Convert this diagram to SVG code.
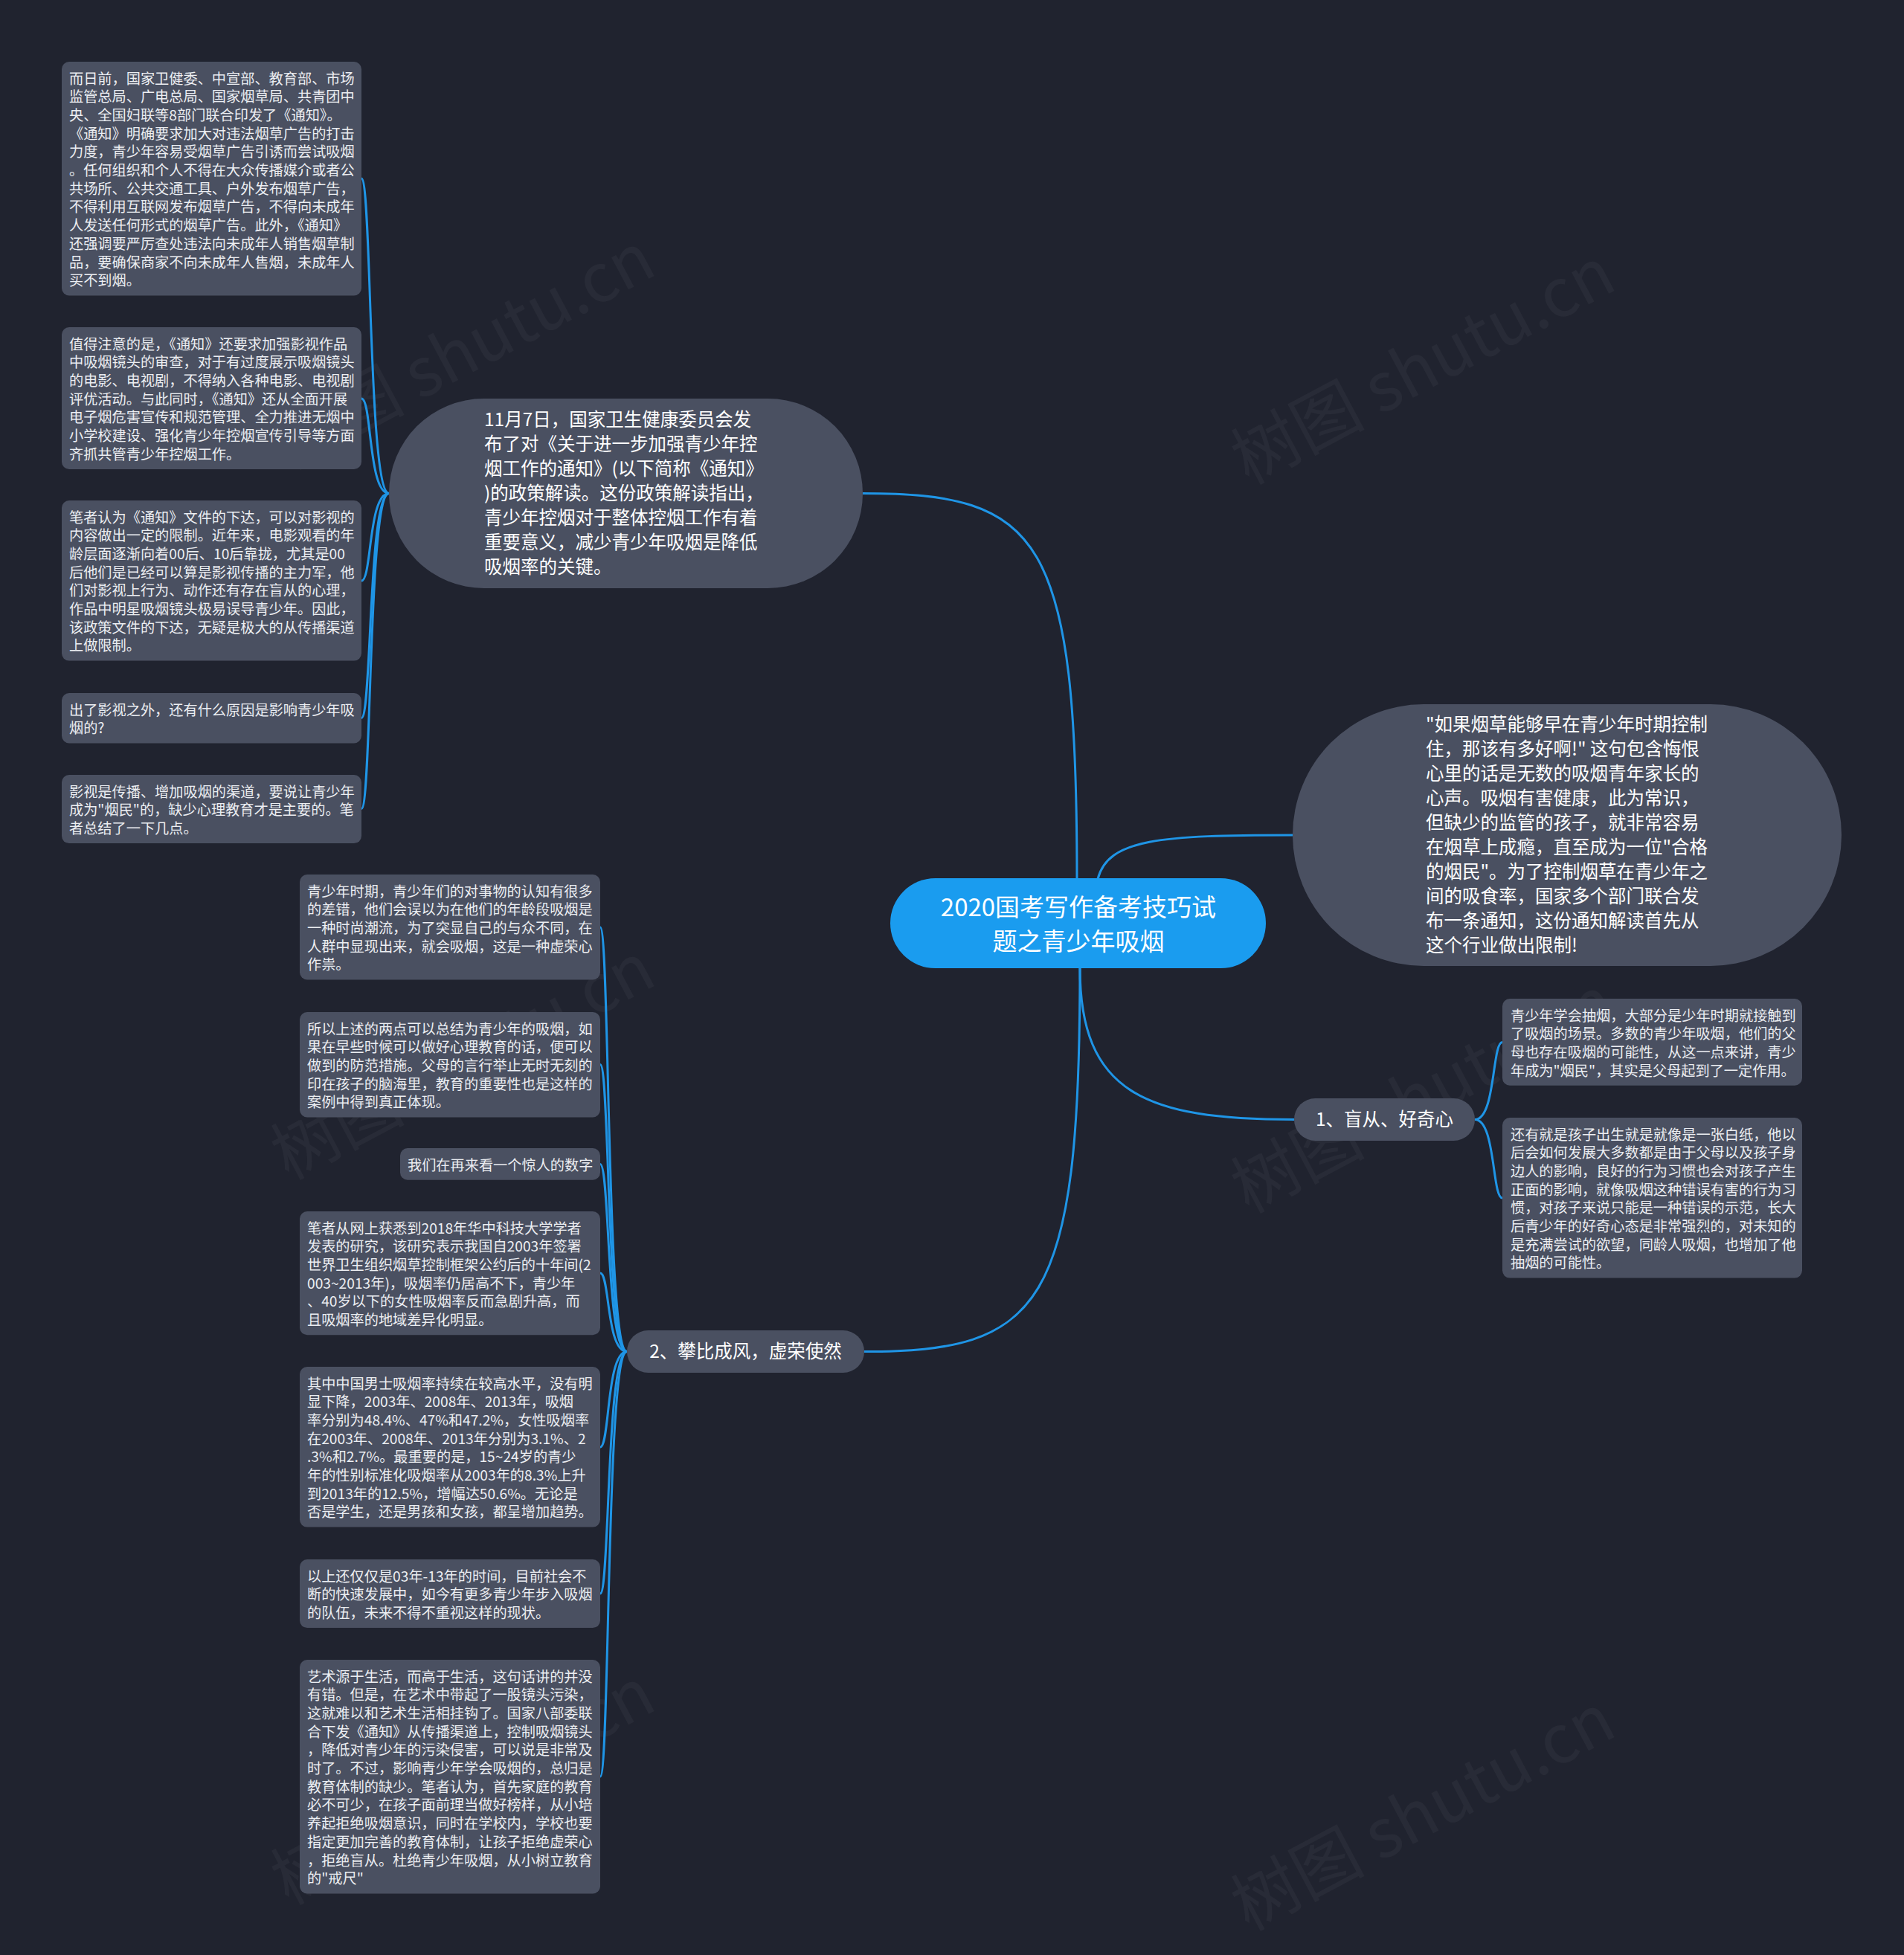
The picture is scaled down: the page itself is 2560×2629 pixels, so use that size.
<svg xmlns="http://www.w3.org/2000/svg" width="2560" height="2629" viewBox="0 0 2560 2629">
<style>
.bg{fill:#20232f}
.sb{fill:#4a5061}
.st{fill:#eceef2;font-family:"Noto Sans CJK SC","Microsoft YaHei",sans-serif;font-size:19.2px}
.mn{fill:#4a5061}
.mt{fill:#ffffff;font-family:"Noto Sans CJK SC","Microsoft YaHei",sans-serif;font-size:24.5px}
.ct{fill:#ffffff;font-family:"Noto Sans CJK SC","Microsoft YaHei",sans-serif;font-size:33px;text-anchor:middle}
.ln{fill:none;stroke:#1f95e6;stroke-width:3}
.wm{fill:#ffffff;opacity:0.035;font-family:"Noto Sans CJK SC","Liberation Sans",sans-serif;font-size:90px;text-anchor:middle}
</style>
<rect class="bg" x="0" y="0" width="2560" height="2629"/>
<g id="watermarks">
<text class="wm" transform="translate(637,500) rotate(-28)">树图 shutu.cn</text>
<text class="wm" transform="translate(1928,520) rotate(-28)">树图 shutu.cn</text>
<text class="wm" transform="translate(637,1455) rotate(-28)">树图 shutu.cn</text>
<text class="wm" transform="translate(1928,1500) rotate(-28)">树图 shutu.cn</text>
<text class="wm" transform="translate(637,2430) rotate(-28)">树图 shutu.cn</text>
<text class="wm" transform="translate(1928,2465) rotate(-28)">树图 shutu.cn</text>
</g>
<g id="connectors">
<path class="ln" d="M1448,1182 C1448,720 1400,663.5 1160,663.5"/>
<path class="ln" d="M1476,1182 C1490,1128 1560,1123 1738,1123"/>
<path class="ln" d="M1452,1301 C1452,1470 1540,1505.5 1740,1505.5"/>
<path class="ln" d="M1452,1301 C1452,1760 1400,1817.5 1162,1817.5"/>
<path class="ln" d="M523,663.5 C495,663.5 500,240 486,240"/>
<path class="ln" d="M523,663.5 C495,663.5 500,536 486,536"/>
<path class="ln" d="M523,663.5 C495,663.5 500,781 486,781"/>
<path class="ln" d="M523,663.5 C495,663.5 500,965.5 486,965.5"/>
<path class="ln" d="M523,663.5 C495,663.5 500,1087.5 486,1087.5"/>
<path class="ln" d="M1983,1505.5 C2011,1505.5 2006,1401.5 2020,1401.5"/>
<path class="ln" d="M1983,1505.5 C2011,1505.5 2006,1611 2020,1611"/>
<path class="ln" d="M843,1817.5 C815,1817.5 820,1247 807,1247"/>
<path class="ln" d="M843,1817.5 C815,1817.5 820,1431.5 807,1431.5"/>
<path class="ln" d="M843,1817.5 C815,1817.5 820,1565.5 807,1565.5"/>
<path class="ln" d="M843,1817.5 C815,1817.5 820,1712 807,1712"/>
<path class="ln" d="M843,1817.5 C815,1817.5 820,1946 807,1946"/>
<path class="ln" d="M843,1817.5 C815,1817.5 820,2143 807,2143"/>
<path class="ln" d="M843,1817.5 C815,1817.5 820,2389 807,2389"/>
</g>
<g id="center">
<rect x="1197" y="1181" width="505" height="121" rx="60.5" fill="#1a9cef"/>
<text class="ct" x="1450" y="1232">2020国考写作备考技巧试</text>
<text class="ct" x="1450" y="1278">题之青少年吸烟</text>
</g>
<g id="nodeA">
<rect class="mn" x="523" y="536" width="637" height="255" rx="127.5"/>
<text class="mt" x="651" y="573"><tspan x="651" dy="0">11月7日，国家卫生健康委员会发</tspan><tspan x="651" dy="33">布了对《关于进一步加强青少年控</tspan><tspan x="651" dy="33">烟工作的通知》(以下简称《通知》</tspan><tspan x="651" dy="33">)的政策解读。这份政策解读指出，</tspan><tspan x="651" dy="33">青少年控烟对于整体控烟工作有着</tspan><tspan x="651" dy="33">重要意义，减少青少年吸烟是降低</tspan><tspan x="651" dy="33">吸烟率的关键。</tspan></text>
</g>
<g id="nodeB">
<rect class="mn" x="1738" y="947" width="738" height="352" rx="176"/>
<text class="mt" x="1917" y="983"><tspan x="1917" dy="0">"如果烟草能够早在青少年时期控制</tspan><tspan x="1917" dy="33">住，那该有多好啊!" 这句包含悔恨</tspan><tspan x="1917" dy="33">心里的话是无数的吸烟青年家长的</tspan><tspan x="1917" dy="33">心声。吸烟有害健康，此为常识，</tspan><tspan x="1917" dy="33">但缺少的监管的孩子，就非常容易</tspan><tspan x="1917" dy="33">在烟草上成瘾，直至成为一位"合格</tspan><tspan x="1917" dy="33">的烟民"。为了控制烟草在青少年之</tspan><tspan x="1917" dy="33">间的吸食率，国家多个部门联合发</tspan><tspan x="1917" dy="33">布一条通知，这份通知解读首先从</tspan><tspan x="1917" dy="33">这个行业做出限制!</tspan></text>
</g>
<g id="node1">
<rect class="mn" x="1740" y="1477" width="243" height="57" rx="28.5"/>
<text class="mt" x="1861.5" y="1514" text-anchor="middle">1、盲从、好奇心</text>
</g>
<g id="node2">
<rect class="mn" x="843" y="1789" width="319" height="57" rx="28.5"/>
<text class="mt" x="1002.5" y="1826" text-anchor="middle">2、攀比成风，虚荣使然</text>
</g>
<g id="L1">
<rect class="sb" x="83" y="83" width="403" height="314.4" rx="10"/>
<text class="st" x="93" y="112.5"><tspan x="93" dy="0">而日前，国家卫健委、中宣部、教育部、市场</tspan><tspan x="93" dy="24.7">监管总局、广电总局、国家烟草局、共青团中</tspan><tspan x="93" dy="24.7">央、全国妇联等8部门联合印发了《通知》。</tspan><tspan x="93" dy="24.7">《通知》明确要求加大对违法烟草广告的打击</tspan><tspan x="93" dy="24.7">力度，青少年容易受烟草广告引诱而尝试吸烟</tspan><tspan x="93" dy="24.7">。任何组织和个人不得在大众传播媒介或者公</tspan><tspan x="93" dy="24.7">共场所、公共交通工具、户外发布烟草广告，</tspan><tspan x="93" dy="24.7">不得利用互联网发布烟草广告，不得向未成年</tspan><tspan x="93" dy="24.7">人发送任何形式的烟草广告。此外，《通知》</tspan><tspan x="93" dy="24.7">还强调要严厉查处违法向未成年人销售烟草制</tspan><tspan x="93" dy="24.7">品，要确保商家不向未成年人售烟，未成年人</tspan><tspan x="93" dy="24.7">买不到烟。</tspan></text>
</g>
<g id="L2">
<rect class="sb" x="83" y="440" width="403" height="190.9" rx="10"/>
<text class="st" x="93" y="469.5"><tspan x="93" dy="0">值得注意的是，《通知》还要求加强影视作品</tspan><tspan x="93" dy="24.7">中吸烟镜头的审查，对于有过度展示吸烟镜头</tspan><tspan x="93" dy="24.7">的电影、电视剧，不得纳入各种电影、电视剧</tspan><tspan x="93" dy="24.7">评优活动。与此同时，《通知》还从全面开展</tspan><tspan x="93" dy="24.7">电子烟危害宣传和规范管理、全力推进无烟中</tspan><tspan x="93" dy="24.7">小学校建设、强化青少年控烟宣传引导等方面</tspan><tspan x="93" dy="24.7">齐抓共管青少年控烟工作。</tspan></text>
</g>
<g id="L3">
<rect class="sb" x="83" y="673" width="403" height="215.6" rx="10"/>
<text class="st" x="93" y="702.5"><tspan x="93" dy="0">笔者认为《通知》文件的下达，可以对影视的</tspan><tspan x="93" dy="24.7">内容做出一定的限制。近年来，电影观看的年</tspan><tspan x="93" dy="24.7">龄层面逐渐向着00后、10后靠拢，尤其是00</tspan><tspan x="93" dy="24.7">后他们是已经可以算是影视传播的主力军，他</tspan><tspan x="93" dy="24.7">们对影视上行为、动作还有存在盲从的心理，</tspan><tspan x="93" dy="24.7">作品中明星吸烟镜头极易误导青少年。因此，</tspan><tspan x="93" dy="24.7">该政策文件的下达，无疑是极大的从传播渠道</tspan><tspan x="93" dy="24.7">上做限制。</tspan></text>
</g>
<g id="L4">
<rect class="sb" x="83" y="932" width="403" height="67.4" rx="10"/>
<text class="st" x="93" y="961.5"><tspan x="93" dy="0">出了影视之外，还有什么原因是影响青少年吸</tspan><tspan x="93" dy="24.7">烟的?</tspan></text>
</g>
<g id="L5">
<rect class="sb" x="83" y="1042" width="403" height="92.1" rx="10"/>
<text class="st" x="93" y="1071.5"><tspan x="93" dy="0">影视是传播、增加吸烟的渠道，要说让青少年</tspan><tspan x="93" dy="24.7">成为"烟民"的，缺少心理教育才是主要的。笔</tspan><tspan x="93" dy="24.7">者总结了一下几点。</tspan></text>
</g>
<g id="R1">
<rect class="sb" x="2020" y="1343" width="403" height="116.8" rx="10"/>
<text class="st" x="2031" y="1372.5"><tspan x="2031" dy="0">青少年学会抽烟，大部分是少年时期就接触到</tspan><tspan x="2031" dy="24.7">了吸烟的场景。多数的青少年吸烟，他们的父</tspan><tspan x="2031" dy="24.7">母也存在吸烟的可能性，从这一点来讲，青少</tspan><tspan x="2031" dy="24.7">年成为"烟民"，其实是父母起到了一定作用。</tspan></text>
</g>
<g id="R2">
<rect class="sb" x="2020" y="1503" width="403" height="215.6" rx="10"/>
<text class="st" x="2031" y="1532.5"><tspan x="2031" dy="0">还有就是孩子出生就是就像是一张白纸，他以</tspan><tspan x="2031" dy="24.7">后会如何发展大多数都是由于父母以及孩子身</tspan><tspan x="2031" dy="24.7">边人的影响，良好的行为习惯也会对孩子产生</tspan><tspan x="2031" dy="24.7">正面的影响，就像吸烟这种错误有害的行为习</tspan><tspan x="2031" dy="24.7">惯，对孩子来说只能是一种错误的示范，长大</tspan><tspan x="2031" dy="24.7">后青少年的好奇心态是非常强烈的，对未知的</tspan><tspan x="2031" dy="24.7">是充满尝试的欲望，同龄人吸烟，也增加了他</tspan><tspan x="2031" dy="24.7">抽烟的可能性。</tspan></text>
</g>
<g id="M1">
<rect class="sb" x="403" y="1176" width="404" height="141.5" rx="10"/>
<text class="st" x="413" y="1205.5"><tspan x="413" dy="0">青少年时期，青少年们的对事物的认知有很多</tspan><tspan x="413" dy="24.7">的差错，他们会误以为在他们的年龄段吸烟是</tspan><tspan x="413" dy="24.7">一种时尚潮流，为了突显自己的与众不同，在</tspan><tspan x="413" dy="24.7">人群中显现出来，就会吸烟，这是一种虚荣心</tspan><tspan x="413" dy="24.7">作祟。</tspan></text>
</g>
<g id="M2">
<rect class="sb" x="403" y="1361" width="404" height="141.5" rx="10"/>
<text class="st" x="413" y="1390.5"><tspan x="413" dy="0">所以上述的两点可以总结为青少年的吸烟，如</tspan><tspan x="413" dy="24.7">果在早些时候可以做好心理教育的话，便可以</tspan><tspan x="413" dy="24.7">做到的防范措施。父母的言行举止无时无刻的</tspan><tspan x="413" dy="24.7">印在孩子的脑海里，教育的重要性也是这样的</tspan><tspan x="413" dy="24.7">案例中得到真正体现。</tspan></text>
</g>
<g id="M3">
<rect class="sb" x="538" y="1544" width="269" height="42.7" rx="10"/>
<text class="st" x="548" y="1573.5">我们在再来看一个惊人的数字</text>
</g>
<g id="M4">
<rect class="sb" x="403" y="1629" width="404" height="166.2" rx="10"/>
<text class="st" x="413" y="1658.5"><tspan x="413" dy="0">笔者从网上获悉到2018年华中科技大学学者</tspan><tspan x="413" dy="24.7">发表的研究，该研究表示我国自2003年签署</tspan><tspan x="413" dy="24.7">世界卫生组织烟草控制框架公约后的十年间(2</tspan><tspan x="413" dy="24.7">003~2013年)，吸烟率仍居高不下，青少年</tspan><tspan x="413" dy="24.7">、40岁以下的女性吸烟率反而急剧升高，而</tspan><tspan x="413" dy="24.7">且吸烟率的地域差异化明显。</tspan></text>
</g>
<g id="M5">
<rect class="sb" x="403" y="1838" width="404" height="215.6" rx="10"/>
<text class="st" x="413" y="1867.5"><tspan x="413" dy="0">其中中国男士吸烟率持续在较高水平，没有明</tspan><tspan x="413" dy="24.7">显下降，2003年、2008年、2013年，吸烟</tspan><tspan x="413" dy="24.7">率分别为48.4%、47%和47.2%，女性吸烟率</tspan><tspan x="413" dy="24.7">在2003年、2008年、2013年分别为3.1%、2</tspan><tspan x="413" dy="24.7">.3%和2.7%。最重要的是，15~24岁的青少</tspan><tspan x="413" dy="24.7">年的性别标准化吸烟率从2003年的8.3%上升</tspan><tspan x="413" dy="24.7">到2013年的12.5%，增幅达50.6%。无论是</tspan><tspan x="413" dy="24.7">否是学生，还是男孩和女孩，都呈增加趋势。</tspan></text>
</g>
<g id="M6">
<rect class="sb" x="403" y="2097" width="404" height="92.1" rx="10"/>
<text class="st" x="413" y="2126.5"><tspan x="413" dy="0">以上还仅仅是03年-13年的时间，目前社会不</tspan><tspan x="413" dy="24.7">断的快速发展中，如今有更多青少年步入吸烟</tspan><tspan x="413" dy="24.7">的队伍，未来不得不重视这样的现状。</tspan></text>
</g>
<g id="M7">
<rect class="sb" x="403" y="2232" width="404" height="314.4" rx="10"/>
<text class="st" x="413" y="2261.5"><tspan x="413" dy="0">艺术源于生活，而高于生活，这句话讲的并没</tspan><tspan x="413" dy="24.7">有错。但是，在艺术中带起了一股镜头污染，</tspan><tspan x="413" dy="24.7">这就难以和艺术生活相挂钩了。国家八部委联</tspan><tspan x="413" dy="24.7">合下发《通知》从传播渠道上，控制吸烟镜头</tspan><tspan x="413" dy="24.7">，降低对青少年的污染侵害，可以说是非常及</tspan><tspan x="413" dy="24.7">时了。不过，影响青少年学会吸烟的，总归是</tspan><tspan x="413" dy="24.7">教育体制的缺少。笔者认为，首先家庭的教育</tspan><tspan x="413" dy="24.7">必不可少，在孩子面前理当做好榜样，从小培</tspan><tspan x="413" dy="24.7">养起拒绝吸烟意识，同时在学校内，学校也要</tspan><tspan x="413" dy="24.7">指定更加完善的教育体制，让孩子拒绝虚荣心</tspan><tspan x="413" dy="24.7">，拒绝盲从。杜绝青少年吸烟，从小树立教育</tspan><tspan x="413" dy="24.7">的"戒尺"</tspan></text>
</g>
</svg>
